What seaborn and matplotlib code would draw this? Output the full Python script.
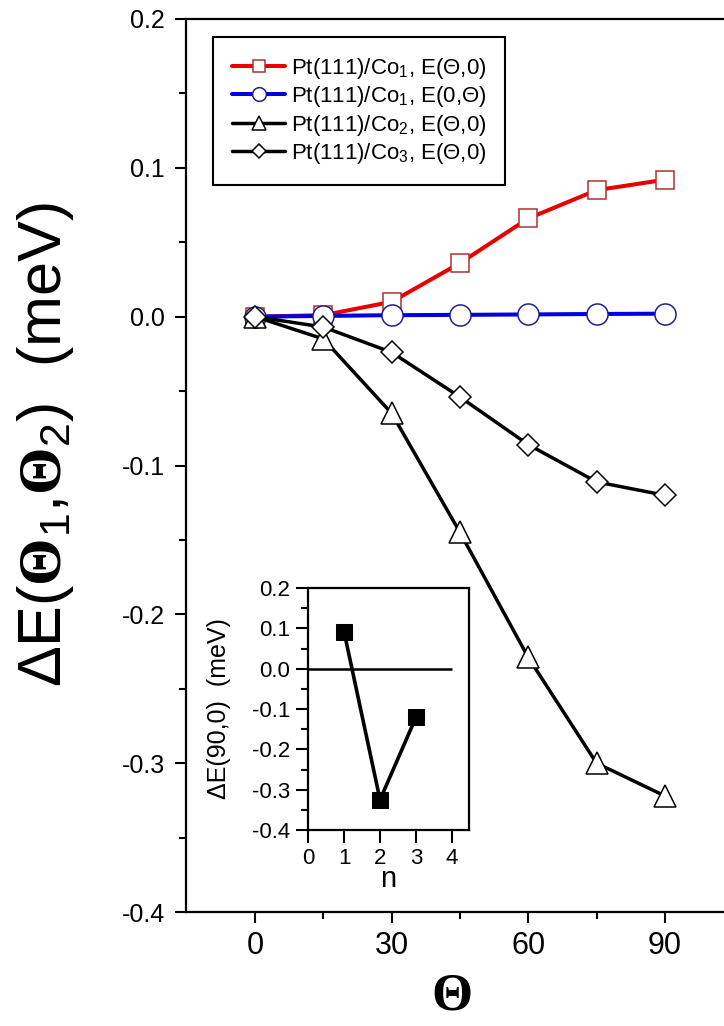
import matplotlib
matplotlib.use("Agg")
import matplotlib.pyplot as plt
import seaborn as sns

sns.set_style("ticks")
plt.rcParams["font.family"] = ["Liberation Sans", "DejaVu Sans"]
plt.rcParams["mathtext.fontset"] = "custom"
plt.rcParams["mathtext.rm"] = "Liberation Sans"
plt.rcParams["mathtext.it"] = "Liberation Sans:italic"
plt.rcParams["mathtext.bf"] = "Liberation Serif:bold"
for k in ["text.color", "axes.labelcolor", "xtick.color", "ytick.color", "axes.edgecolor"]:
    plt.rcParams[k] = "black"

# main panel data
theta = [0, 15, 30, 45, 60, 75, 90]
co1_t0 = [0.0, 0.001, 0.010, 0.036, 0.066, 0.085, 0.092]
co1_0t = [0.0, 0.0005, 0.001, 0.0012, 0.0015, 0.0018, 0.002]
co2_t0 = [0.0, -0.015, -0.065, -0.145, -0.229, -0.300, -0.322]
co3_t0 = [0.0, -0.007, -0.024, -0.054, -0.086, -0.111, -0.120]
labels = [r"Pt(111)/Co$_1$, E(Θ,0)", r"Pt(111)/Co$_1$, E(0,Θ)",
          r"Pt(111)/Co$_2$, E(Θ,0)", r"Pt(111)/Co$_3$, E(Θ,0)"]

# inset data
n_layers = [1, 2, 3]
de_90 = [0.092, -0.325, -0.120]

W, H = 724, 1026
fig = plt.figure(figsize=(W / 100, H / 100), dpi=100)
ax = fig.add_axes([186 / W, 1 - 912 / H, 1 - 186 / W, (912 - 19) / H])

styles = [
    dict(color="#e80000", marker="s", markersize=13.4, markeredgecolor="#b03030", linewidth=2.9),
    dict(color="#0000e0", marker="o", markersize=15.2, markeredgecolor="#20208c", linewidth=2.9),
    dict(color="black", marker="^", markersize=16, markeredgecolor="black", linewidth=2.5),
    dict(color="black", marker="D", markersize=11.5, markeredgecolor="black", linewidth=2.5),
]
series = [co1_t0, co1_0t, co2_t0, co3_t0]
for ys, lab, st in zip(series, labels, styles):
    sns.lineplot(x=theta, y=ys, ax=ax, label=lab, markerfacecolor="white",
                 markeredgewidth=1.1, **st)

ax.set_xlim(-15.2, 103)
ax.set_ylim(-0.4, 0.2)
ax.set_xticks([0, 30, 60, 90])
ax.set_xticks([15, 45, 75], minor=True)
ax.set_yticks([-0.4, -0.3, -0.2, -0.1, 0.0, 0.1, 0.2])
ax.set_yticks([-0.35, -0.25, -0.15, -0.05, 0.05, 0.15], minor=True)
ax.set_yticklabels(["-0.4", "-0.3", "-0.2", "-0.1", "0.0", "0.1", "0.2"])
ax.tick_params(axis="x", which="major", direction="out", length=8, width=1.5, labelsize=22, pad=6)
ax.tick_params(axis="y", which="major", direction="out", length=8, width=1.5, labelsize=18, pad=7)
ax.tick_params(which="minor", direction="out", length=5, width=1.5)
for s in ["left", "bottom", "top"]:
    ax.spines[s].set_linewidth(1.6)
ax.spines["right"].set_visible(False)
ax.set_xlabel("")
ax.set_ylabel("")

fig.text(46 / W, 1 - 445 / H, r"ΔE($\mathbf{\Theta}_1$,$\mathbf{\Theta}_2$)  (meV)",
         rotation=90, ha="center", va="center", fontsize=44)
fig.text(452 / W, 1 - 996 / H, "Θ", family="Liberation Serif", fontweight="bold",
         ha="center", va="center", fontsize=38)

leg = ax.legend(loc="upper left", bbox_to_anchor=(213 / W, 1 - 37 / H),
                bbox_transform=fig.transFigure, borderaxespad=0, fontsize=16,
                frameon=True, fancybox=False, edgecolor="black", framealpha=1,
                handlelength=2.4, handletextpad=0.25, labelspacing=0.15,
                borderpad=0.85, markerscale=0.65)
leg.get_frame().set_linewidth(1.5)

# inset
ins = fig.add_axes([308 / W, 1 - 830 / H, (469 - 308) / W, (830 - 588) / H])
sns.lineplot(x=n_layers, y=de_90, ax=ins, color="black", linewidth=2.6,
             marker="s", markersize=12, markerfacecolor="black", markeredgecolor="black")
ins.hlines(0, 0, 4, color="black", linewidth=1.8)
ins.set_xlim(0, 4.47)
ins.set_ylim(-0.4, 0.2)
ins.set_xticks([0, 1, 2, 3, 4])
ins.set_yticks([-0.4, -0.3, -0.2, -0.1, 0.0, 0.1, 0.2])
ins.set_yticks([-0.35, -0.25, -0.15, -0.05, 0.05, 0.15], minor=True)
ins.set_yticklabels(["-0.4", "-0.3", "-0.2", "-0.1", "0.0", "0.1", "0.2"])
ins.tick_params(which="major", direction="out", length=9, width=1.5, labelsize=16, pad=4)
ins.tick_params(which="minor", direction="out", length=5, width=1.5)
for s in ins.spines.values():
    s.set_linewidth(1.6)
ins.set_xlabel("n", fontsize=21, labelpad=-3)
ins.set_ylabel("")
fig.text(219 / W, 1 - 709 / H, "ΔE(90,0)  (meV)", rotation=90,
         ha="center", va="center", fontsize=18)

fig.savefig("out.png", dpi=100)
